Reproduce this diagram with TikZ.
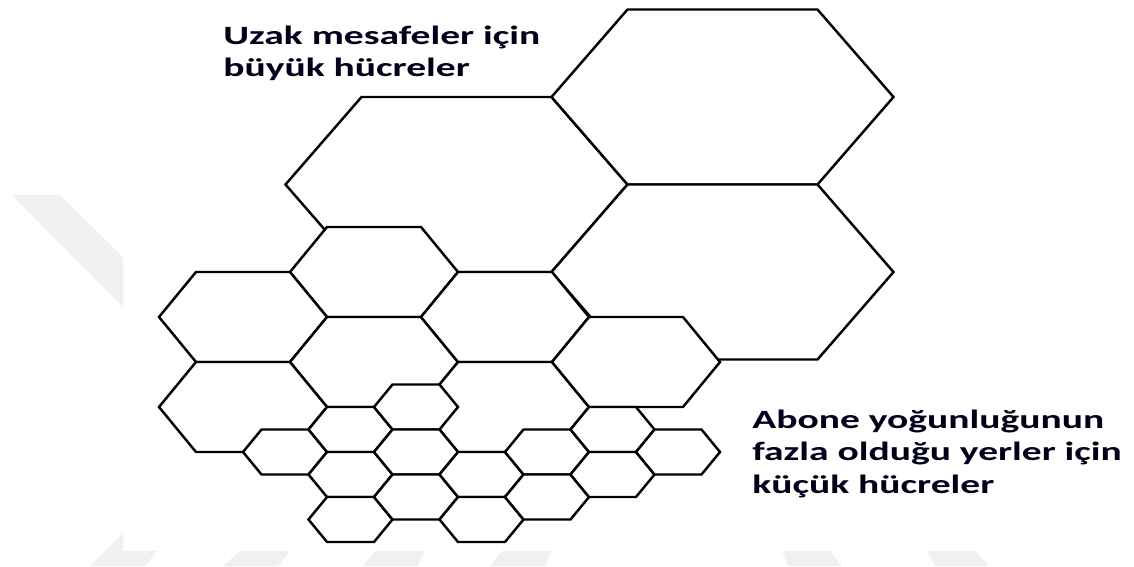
\documentclass[tikz,border=0pt]{standalone}
\usepackage{fontspec}
\usepackage{graphicx}
\setmainfont{Carlito}
\tikzset{
    cell/.style={draw=black, fill=white, line width=1.4pt},
    mark stripe/.style={fill=black!6, draw=none},
    caption/.style={anchor=north west, inner sep=0pt,
        font=\bfseries\fontsize{15}{18.5}\selectfont, text=black!90!blue}
}
\begin{document}
\begin{tikzpicture}[x=0.02cm, y=-0.02cm]
    \useasboundingbox (0,0) rectangle (1134,566);
    % Filigran
    \fill[mark stripe] (12,195) -- (60,195) -- (123,257) -- (123,307) -- cycle;
    \fill[mark stripe] (90,566) -- (123,533) -- (123,551) -- (157,551) -- (145,566) -- cycle;
    \foreach \xa/\xb in {223/240, 363/375, 490/502} {
        \fill[mark stripe] (\xa,566) -- (\xb,551) -- ({\xb+50},551) -- ({\xa+55},566) -- cycle;
    }
    \foreach \xa/\xb in {788/782, 935/927} {
        \fill[mark stripe] (\xb,551) -- ({\xb+48},551) -- ({\xa+54},566) -- (\xa,566) -- cycle;
    }
    % Büyük hücreler
    \foreach \cx/\cy in {456.5/184.5, 722.5/97, 722.5/272} {
        \draw[cell] (\cx-171,\cy) -- (\cx-95,\cy-87.5) -- (\cx+95,\cy-87.5)
            -- (\cx+171,\cy) -- (\cx+95,\cy+87.5) -- (\cx-95,\cy+87.5) -- cycle;
    }
    % Orta hücreler
    \foreach \cx/\cy in {374/272, 243/317, 374/362, 243/407, 505/317, 505/407, 636/362} {
        \draw[cell] (\cx-84,\cy) -- (\cx-47,\cy-45) -- (\cx+47,\cy-45)
            -- (\cx+84,\cy) -- (\cx+47,\cy+45) -- (\cx-47,\cy+45) -- cycle;
    }
    % Küçük hücreler
    \foreach \cx/\cy in {285/452, 350.5/429.5, 350.5/474.5, 350.5/519.5,
        416/407, 416/452, 416/497, 481.5/474.5, 481.5/519.5,
        547/452, 547/497, 612.5/429.5, 612.5/474.5, 678/452} {
        \draw[cell] (\cx-42,\cy) -- (\cx-23.5,\cy-22.5) -- (\cx+23.5,\cy-22.5)
            -- (\cx+42,\cy) -- (\cx+23.5,\cy+22.5) -- (\cx-23.5,\cy+22.5) -- cycle;
    }
    % Etiketler
    \node[caption] (far) at (223,21)
        {\scalebox{1.5}[1]{\begin{tabular}{@{}l@{}}Uzak mesafeler için\\büyük hücreler\end{tabular}}};
    \node[caption] (dense) at (752,405)
        {\scalebox{1.5}[1]{\begin{tabular}{@{}l@{}}Abone yoğunluğunun\\fazla olduğu yerler için\\küçük hücreler\end{tabular}}};
\end{tikzpicture}
\end{document}
